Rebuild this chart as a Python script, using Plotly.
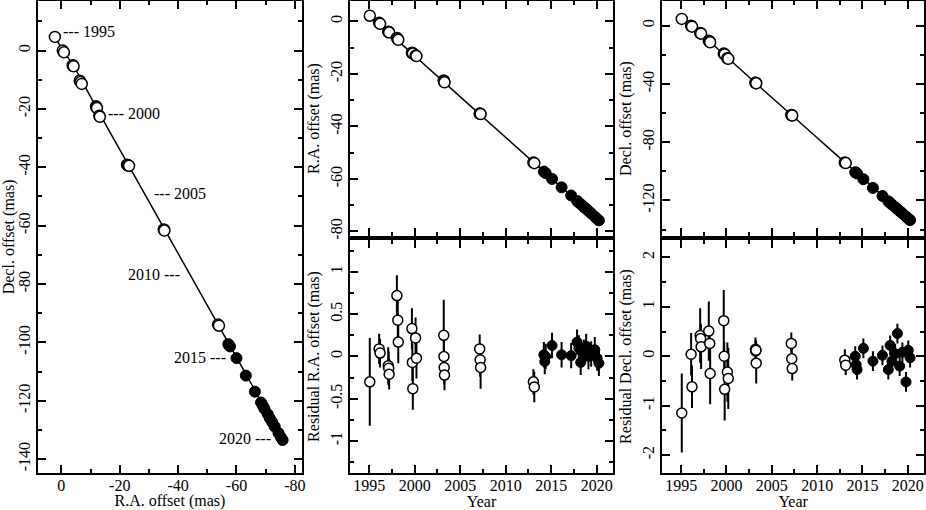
import plotly.graph_objects as go

# epochs (open = early archival epochs, filled = recent epochs)
open_year = [1995.07, 1996.10, 1996.20, 1997.10, 1997.15, 1997.20, 1998.05, 1998.15, 1998.20,
             1999.70, 1999.75, 1999.80, 2000.10, 2000.20, 2003.20, 2003.22, 2003.25, 2003.28,
             2007.15, 2007.20, 2007.25, 2013.05, 2013.15]
open_ra = [2.2, -0.5, -0.9, -3.9, -4.0, -4.2, -6.3, -6.6, -7.0, -11.9, -12.0, -12.2, -13.0, -13.2,
           -22.5, -22.7, -22.9, -23.2, -35.1, -35.2, -35.3, -53.7, -54.0]
open_dec = [4.7, 0.0, -0.6, -5.0, -5.2, -5.4, -10.3, -10.8, -11.4, -19.1, -19.4, -19.7, -22.3, -22.7,
            -39.1, -39.2, -39.4, -39.5, -61.3, -61.5, -61.7, -93.9, -94.3]
open_res_ra = [-0.30, 0.09, 0.04, -0.11, -0.14, -0.21, 0.72, 0.43, 0.17, 0.33, -0.07, -0.38, 0.22, -0.02,
               0.25, 0.00, -0.13, -0.22, 0.09, -0.04, -0.13, -0.30, -0.36]
open_err_ra = [0.52, 0.18, 0.17, 0.22, 0.20, 0.18, 0.24, 0.22, 0.25, 0.24, 0.22, 0.25, 0.24, 0.24,
               0.42, 0.20, 0.20, 0.18, 0.17, 0.20, 0.25, 0.15, 0.18]
open_res_dec = [-1.15, 0.04, -0.62, 0.42, 0.36, 0.19, 0.51, 0.26, -0.35, 0.72, 0.00, -0.67, -0.32, -0.45,
                0.14, 0.11, 0.12, -0.14, 0.26, -0.05, -0.25, -0.08, -0.18]
open_err_dec = [0.80, 0.43, 0.43, 0.55, 0.30, 0.45, 0.60, 0.30, 0.62, 0.62, 0.30, 0.63, 0.60, 0.62,
                0.24, 0.20, 0.20, 0.41, 0.22, 0.25, 0.24, 0.22, 0.20]

fill_year = [2014.20, 2014.30, 2014.40, 2015.10, 2016.15, 2017.20, 2017.85, 2018.05, 2018.25, 2018.60,
             2018.85, 2019.10, 2019.40, 2019.80, 2020.05, 2020.25]
fill_ra = [-57.2, -57.5, -57.8, -60.0, -63.2, -66.3, -68.4, -69.0, -69.6, -70.7, -71.4, -72.2, -73.1,
           -74.4, -75.2, -75.8]
fill_dec = [-100.6, -101.0, -101.4, -105.4, -111.4, -116.9, -120.6, -121.7, -122.8, -124.6, -126.0,
            -127.3, -128.9, -131.1, -132.5, -133.5]
fill_res_ra = [0.02, -0.06, 0.00, 0.13, 0.02, 0.01, 0.17, 0.10, -0.07, 0.05, 0.12, 0.00, 0.03, 0.08,
               -0.02, -0.08]
fill_err_ra = [0.15, 0.15, 0.15, 0.15, 0.15, 0.15, 0.15, 0.15, 0.15, 0.15, 0.15, 0.15, 0.15, 0.15,
               0.15, 0.15]
fill_res_dec = [0.00, -0.17, -0.27, 0.16, -0.10, 0.02, -0.27, 0.22, -0.10, 0.05, 0.46, -0.20, 0.08,
                -0.52, 0.12, -0.03]
fill_err_dec = [0.20, 0.20, 0.20, 0.20, 0.20, 0.20, 0.20, 0.20, 0.20, 0.20, 0.20, 0.20, 0.20, 0.20,
                0.20, 0.20]

# fitted track
model_year = [1994.9, 1996, 1997, 1998, 1999, 2000, 2001, 2002, 2003, 2004, 2005, 2006, 2007, 2008,
              2009, 2010, 2011, 2012, 2013, 2014, 2015, 2016, 2017, 2018, 2019, 2020, 2020.4]
model_ra = [2.6, -0.7, -3.9, -6.9, -9.9, -13.0, -16.2, -19.4, -22.5, -25.6, -28.7, -31.8, -34.9, -38.0,
            -41.1, -44.2, -47.3, -50.4, -53.5, -56.6, -59.8, -62.9, -66.0, -69.0, -72.1, -75.2, -76.4]
model_dec = [5.3, -0.2, -4.6, -10.2, -15.6, -21.3, -27.2, -32.8, -38.3, -43.8, -49.3, -54.7, -60.2,
             -65.8, -71.4, -76.9, -82.5, -88.0, -93.5, -99.1, -104.6, -110.3, -115.9, -121.5, -127.0,
             -132.4, -134.2]

# year labels along the sky track
lab_text = ["--- 1995", "--- 2000", "--- 2005", "2010 ---", "2015 ---", "2020 ---"]
lab_ra = [0.0, -15.4, -31.1, -41.2, -57.1, -72.5]
lab_dec = [6.5, -21.4, -48.9, -76.9, -105.2, -133.0]
lab_anchor = ["left", "left", "left", "right", "right", "right"]

FONT = "Liberation Serif, Times New Roman, Times, serif"
open_marker = dict(symbol="circle", size=11, color="white", line=dict(color="black", width=1.5))
fill_marker = dict(symbol="circle", size=11, color="black", line=dict(color="black", width=1))

fig = go.Figure()

# left: sky track
fig.add_trace(go.Scatter(x=model_ra, y=model_dec, mode="lines", line=dict(color="black", width=1.5),
                         xaxis="x", yaxis="y"))
fig.add_trace(go.Scatter(x=open_ra, y=open_dec, mode="markers", marker=open_marker, xaxis="x", yaxis="y"))
fig.add_trace(go.Scatter(x=fill_ra, y=fill_dec, mode="markers", marker=fill_marker, xaxis="x", yaxis="y"))

# middle top: RA vs time
fig.add_trace(go.Scatter(x=model_year, y=model_ra, mode="lines", line=dict(color="black", width=1.5),
                         xaxis="x2", yaxis="y2"))
fig.add_trace(go.Scatter(x=open_year, y=open_ra, mode="markers", marker=open_marker, xaxis="x2", yaxis="y2"))
fig.add_trace(go.Scatter(x=fill_year, y=fill_ra, mode="markers", marker=fill_marker, xaxis="x2", yaxis="y2"))

# right top: Dec vs time
fig.add_trace(go.Scatter(x=model_year, y=model_dec, mode="lines", line=dict(color="black", width=1.5),
                         xaxis="x4", yaxis="y4"))
fig.add_trace(go.Scatter(x=open_year, y=open_dec, mode="markers", marker=open_marker, xaxis="x4", yaxis="y4"))
fig.add_trace(go.Scatter(x=fill_year, y=fill_dec, mode="markers", marker=fill_marker, xaxis="x4", yaxis="y4"))


def err(vals):
    return dict(type="data", array=vals, visible=True, width=0, thickness=2, color="black")


# residuals
fig.add_trace(go.Scatter(x=open_year, y=open_res_ra, mode="markers", marker=dict(open_marker, size=10),
                         error_y=err(open_err_ra), xaxis="x3", yaxis="y3"))
fig.add_trace(go.Scatter(x=fill_year, y=fill_res_ra, mode="markers", marker=dict(fill_marker, size=10),
                         error_y=err(fill_err_ra), xaxis="x3", yaxis="y3"))
fig.add_trace(go.Scatter(x=open_year, y=open_res_dec, mode="markers", marker=dict(open_marker, size=10),
                         error_y=err(open_err_dec), xaxis="x5", yaxis="y5"))
fig.add_trace(go.Scatter(x=fill_year, y=fill_res_dec, mode="markers", marker=dict(fill_marker, size=10),
                         error_y=err(fill_err_dec), xaxis="x5", yaxis="y5"))

for t, x, y, a in zip(lab_text, lab_ra, lab_dec, lab_anchor):
    fig.add_annotation(x=x, y=y, xref="x", yref="y", text=t, showarrow=False, xanchor=a,
                       yanchor="middle", font=dict(family=FONT, size=16, color="black"))


def ax(domain, rng, vals, minor, title=None, labels=True, angle=0, anchor=None, standoff=4, lab_off=0):
    d = dict(domain=domain, range=rng, tickmode="array", tickvals=vals,
             ticktext=[str(v) for v in vals], showticklabels=labels, tickangle=angle,
             ticks="inside", ticklen=8, tickwidth=1.5, tickcolor="black", ticklabelstandoff=lab_off,
             minor=dict(ticks="inside", dtick=minor, tick0=0, ticklen=4, tickwidth=1.5, tickcolor="black"),
             showline=True, linecolor="black", linewidth=1.5, mirror="ticks",
             showgrid=False, zeroline=False, automargin=False,
             tickfont=dict(family=FONT, size=16, color="black"))
    if title:
        d["title"] = dict(text=title, font=dict(family=FONT, size=16, color="black"), standoff=standoff)
    if anchor:
        d["anchor"] = anchor
    return d


yr_ticks = [1995, 2000, 2005, 2010, 2015, 2020]
yr_range = [1992.9, 2021.8]
dx_left = [0.041, 0.326]
dx_mid = [0.378, 0.662]
dx_right = [0.715, 0.998]
dy_full = [0.073, 0.998]
dy_top = [0.537, 0.998]
dy_bot = [0.073, 0.529]

fig.update_layout(
    width=926, height=510, margin=dict(l=0, r=0, t=0, b=0),
    plot_bgcolor="white", paper_bgcolor="white", showlegend=False,
    xaxis=ax(dx_left, [8, -82.4], [0, -20, -40, -60, -80], 10, "R.A. offset (mas)", anchor="y",
             standoff=0, lab_off=-3),
    yaxis=ax(dy_full, [-144.7, 17], [0, -20, -40, -60, -80, -100, -120, -140], 10,
             "Decl. offset (mas)", angle=-90, anchor="x"),
    xaxis2=ax(dx_mid, yr_range, yr_ticks, 2.5, labels=False, anchor="y2"),
    yaxis2=ax(dy_top, [-81.8, 7.8], [0, -20, -40, -60, -80], 10, "R.A. offset (mas)", angle=-90, anchor="x2"),
    xaxis3=ax(dx_mid, yr_range, yr_ticks, 2.5, "Year", anchor="y3", standoff=0, lab_off=-3),
    yaxis3=ax(dy_bot, [-1.375, 1.375], [1, 0.5, 0, -0.5, -1], 0.25, "Residual R.A. offset (mas)",
              angle=-90, anchor="x3"),
    xaxis4=ax(dx_right, yr_range, yr_ticks, 2.5, labels=False, anchor="y4"),
    yaxis4=ax(dy_top, [-144.5, 17], [0, -40, -80, -120], 20, "Decl. offset (mas)", angle=-90, anchor="x4"),
    xaxis5=ax(dx_right, yr_range, yr_ticks, 2.5, "Year", anchor="y5", standoff=0, lab_off=-3),
    yaxis5=ax(dy_bot, [-2.36, 2.35], [2, 1, 0, -1, -2], 0.5, "Residual Decl. offset (mas)",
              angle=-90, anchor="x5"),
)

# drop the page's default 8px body margin so the figure fills the window
fig.write_html("out.html", config={"displayModeBar": False},
               post_script="document.body.style.margin='0px';document.body.style.overflow='hidden';")
